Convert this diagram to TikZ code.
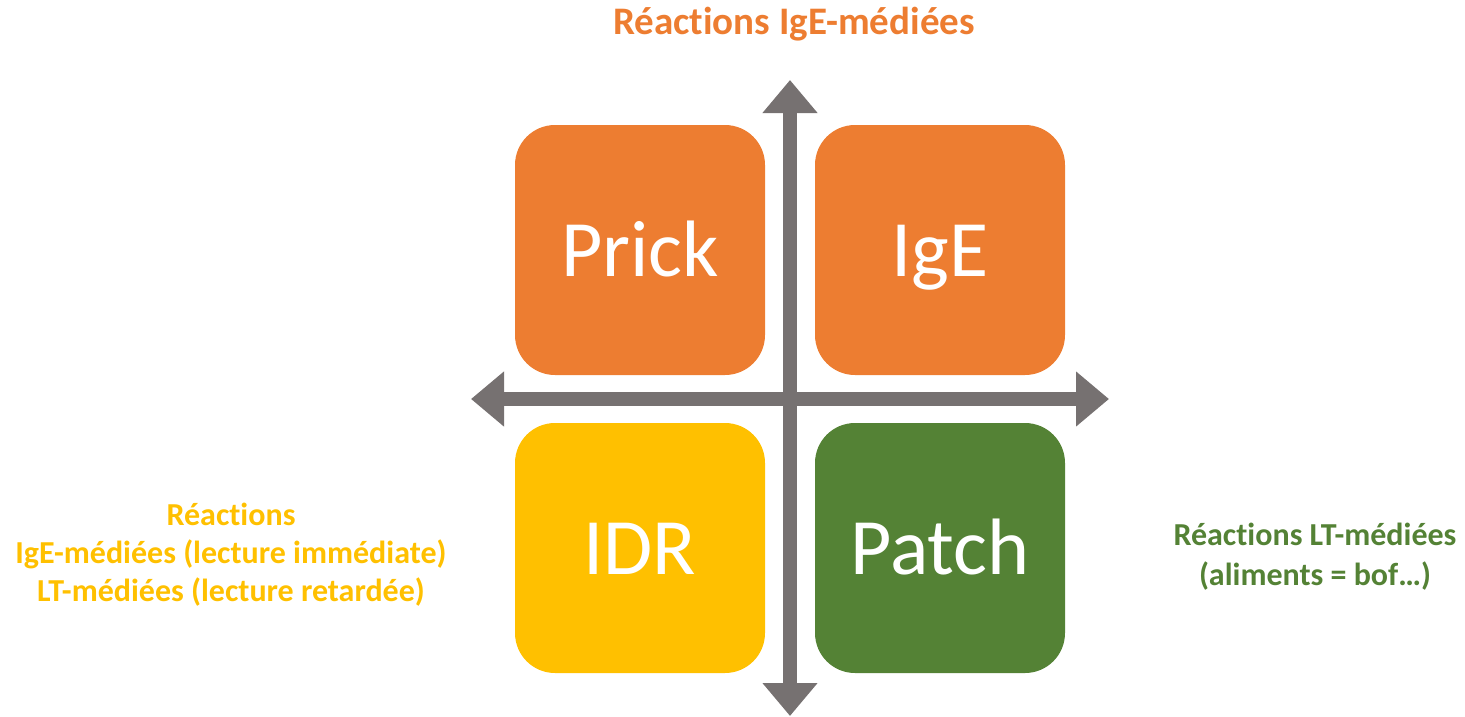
\documentclass[tikz,border=0pt]{standalone}
\usepackage{fontspec}
\setmainfont[Ligatures={NoCommon,NoRequired,NoContextual,NoRare}]{Carlito}
\usetikzlibrary{arrows.meta}
\definecolor{orangebox}{HTML}{ED7D31}
\definecolor{yellowbox}{HTML}{FFC000}
\definecolor{greenbox}{HTML}{548235}
\definecolor{axisgrey}{HTML}{767171}
\tikzset{
  quadrant/.style={rounded corners=40pt, minimum width=250pt, minimum height=250pt,
    inner sep=0pt, text=white, font=\fontsize{80}{96}\selectfont,
    text height=52pt, text depth=0pt},
  axis/.style={axisgrey, line width=14pt,
    {Triangle[length=33pt,width=53pt]}-{Triangle[length=33pt,width=53pt]}},
  caption/.style={font=\bfseries\fontsize{32}{38}\selectfont, align=center}
}

\begin{document}
\begin{tikzpicture}[x=1pt,y=-1pt]
		%%%%% START %%%%%
		\useasboundingbox (0,0) rectangle (1465,716);
		
		% the four quadrants
		\node[quadrant, fill=orangebox] (prick) at (640,250) {Prick};
		\node[quadrant, fill=orangebox] (ige) at (940,250) {IgE};
		\node[quadrant, fill=yellowbox] (idr) at (640,548) {IDR};
		\node[quadrant, fill=greenbox] (patch) at (940,548) {Patch};
		
		% axes
		\coordinate (top) at (790,80);
		\coordinate (bottom) at (790,716);
		\coordinate (left) at (471,399);
		\coordinate (right) at (1109,399);
		\draw[axis] (bottom) -- (top);
		\draw[axis] (left) -- (right);
		
		% captions
		\node[caption, text=orangebox, font=\bfseries\fontsize{39}{44}\selectfont] (igetitle) at (794,24) {Réactions IgE-médiées};
		\node[caption, text=yellowbox] (idrtitle) at (231,555) {Réactions\\IgE-médiées (lecture immédiate)\\LT-médiées (lecture retardée)};
		\node[caption, text=greenbox, font=\bfseries\fontsize{32}{40}\selectfont] (patchtitle) at (1315,557) {Réactions LT-médiées\\(aliments = bof…)};
		%%%%% END %%%%%
	\end{tikzpicture}
\end{document}
